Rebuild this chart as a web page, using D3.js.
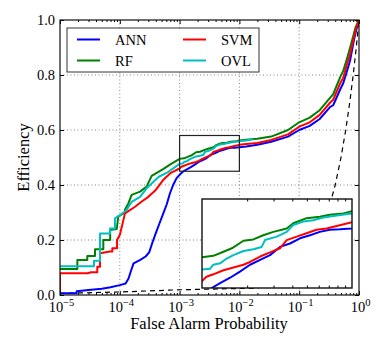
<!DOCTYPE html>
<html>
<head>
<meta charset="utf-8">
<script src="https://cdn.jsdelivr.net/npm/d3@7"></script>
<style>
  body { margin: 0; background: #fff; }
  svg { display: block; }
  text { font-family: "Liberation Serif", "DejaVu Serif", serif; fill: #000; }
</style>
</head>
<body>
<svg id="chart" width="374" height="340" font-family="Liberation Serif, DejaVu Serif, serif"></svg>
<script>
// values: [false alarm probability, efficiency]
const annData = [[1e-5,0.006],[1.9e-5,0.006],[1.9e-5,0.014],[3e-5,0.018],[5e-5,0.023],[7e-5,0.028],[1e-4,0.036],
  [1.25e-4,0.042],[1.4e-4,0.06],[1.55e-4,0.09],[1.7e-4,0.115],[2.2e-4,0.128],[2.7e-4,0.14],[3.1e-4,0.155],[3.5e-4,0.19],
  [4e-4,0.225],[4.6e-4,0.26],[5.3e-4,0.295],[6.1e-4,0.33],[6.9e-4,0.37],[7.8e-4,0.4],[8.9e-4,0.425],[1.05e-3,0.442],
  [1.16e-3,0.45],[1.32e-3,0.457],[1.54e-3,0.465],[1.79e-3,0.474],[2.09e-3,0.484],[2.44e-3,0.491],[2.84e-3,0.498],
  [3.31e-3,0.51],[3.86e-3,0.515],[4.5e-3,0.5226],[5.25e-3,0.527],[6.1e-3,0.532],[7.1e-3,0.535],[8.3e-3,0.5357],
  [1e-2,0.537],[1.3e-2,0.54],[2e-2,0.546],[3.4e-2,0.557],[6.5e-2,0.576],[0.1,0.6],[0.15,0.615],[0.22,0.64],
  [0.33,0.684],[0.37,0.69],[0.49,0.75],[0.545,0.77],[0.63,0.815],[0.705,0.85],[0.82,0.925],[0.88,0.955],[1,1]];

const rfData = [[1e-5,0.095],[1.95e-5,0.095],[1.95e-5,0.127],[2.86e-5,0.127],[2.86e-5,0.142],[3.85e-5,0.142],
  [3.85e-5,0.166],[5.3e-5,0.166],[5.3e-5,0.2],[6.9e-5,0.2],[6.9e-5,0.236],[8.9e-5,0.24],[9.4e-5,0.285],[1.22e-4,0.3],
  [1.22e-4,0.31],[1.39e-4,0.333],[1.58e-4,0.364],[2.18e-4,0.376],[2.81e-4,0.394],[3.41e-4,0.433],[5.3e-4,0.458],
  [7e-4,0.475],[1e-3,0.495],[1.19e-3,0.497],[1.39e-3,0.503],[1.58e-3,0.508],[1.89e-3,0.519],[2.2e-3,0.521],
  [2.56e-3,0.527],[2.99e-3,0.532],[3.67e-3,0.537],[4.06e-3,0.5445],[4.98e-3,0.552],[6.1e-3,0.554],[7.1e-3,0.557],
  [8.76e-3,0.559],[1e-2,0.562],[1.3e-2,0.565],[2e-2,0.568],[3.4e-2,0.576],[6.5e-2,0.6],[0.1,0.628],[0.15,0.645],
  [0.22,0.672],[0.33,0.718],[0.37,0.73],[0.49,0.795],[0.545,0.815],[0.63,0.86],[0.705,0.897],[0.82,0.95],[0.88,0.975],[1,1]];

const svmData = [[1e-5,0],[1e-5,0.079],[2.9e-5,0.079],[3.3e-5,0.083],[4.2e-5,0.083],[4.2e-5,0.103],[4.67e-5,0.103],
  [4.67e-5,0.152],[6.86e-5,0.158],[7.5e-5,0.158],[7.5e-5,0.17],[9e-5,0.17],[9e-5,0.2],[1e-4,0.218],[1.1e-4,0.255],
  [1.22e-4,0.297],[1.39e-4,0.305],[1.8e-4,0.321],[2.3e-4,0.339],[3e-4,0.357],[4e-4,0.382],[5.3e-4,0.418],[7e-4,0.443],
  [1e-3,0.46],[1.07e-3,0.4665],[1.19e-3,0.47],[1.39e-3,0.476],[1.62e-3,0.48],[1.89e-3,0.484],[2.09e-3,0.488],
  [2.44e-3,0.496],[2.84e-3,0.502],[3.31e-3,0.508],[3.67e-3,0.52],[4.28e-3,0.525],[4.98e-3,0.53],[5.8e-3,0.535],
  [6.77e-3,0.537],[7.9e-3,0.5406],[1e-2,0.546],[1.3e-2,0.549],[2e-2,0.553],[3.4e-2,0.564],[6.5e-2,0.584],[0.1,0.612],
  [0.15,0.628],[0.22,0.655],[0.33,0.7],[0.37,0.71],[0.49,0.772],[0.545,0.79],[0.63,0.84],[0.705,0.873],[0.82,0.935],
  [0.88,0.965],[1,1]];

const ovlData = [[1e-5,0.105],[3.7e-5,0.105],[3.7e-5,0.125],[4.67e-5,0.125],[4.67e-5,0.224],[6.86e-5,0.224],
  [6.86e-5,0.242],[8.3e-5,0.242],[8.3e-5,0.279],[1e-4,0.29],[1.3e-4,0.309],[1.58e-4,0.339],[2.18e-4,0.357],
  [2.81e-4,0.388],[4.5e-4,0.43],[6.5e-4,0.448],[1e-3,0.477],[1.13e-3,0.478],[1.19e-3,0.484],[1.32e-3,0.486],
  [1.46e-3,0.493],[1.62e-3,0.498],[1.89e-3,0.504],[2.2e-3,0.5065],[2.5e-3,0.51],[2.63e-3,0.52],[3.15e-3,0.525],
  [3.67e-3,0.532],[4.06e-3,0.542],[4.73e-3,0.547],[5.5e-3,0.549],[6.43e-3,0.553],[7.9e-3,0.556],[1e-2,0.559],
  [1.3e-2,0.562],[1.7e-2,0.566]];

const chanceData = [[1e-5,0.006],[1e-4,0.011],[1e-3,0.019],[2e-2,0.025],[0.05,0.05],[0.1,0.1],[0.2,0.2],[0.3,0.3],
  [0.4,0.4],[0.5,0.5],[0.6,0.6],[0.7,0.7],[0.8,0.8],[0.9,0.9],[1,1]];

const seriesNames = ["ANN", "RF", "SVM", "OVL"];
const seriesColors = ["#0000ff", "#008000", "#ff0000", "#00bfbf"];
const seriesData = [annData, rfData, svmData, ovlData];

const xMajor = [1e-5, 1e-4, 1e-3, 1e-2, 1e-1, 1];
const xExponents = ["\u22125", "\u22124", "\u22123", "\u22122", "\u22121", "0"];
const yMajor = [0, 0.2, 0.4, 0.6, 0.8, 1.0];
const yLabels = ["0.0", "0.2", "0.4", "0.6", "0.8", "1.0"];
const zoomBox = { x0: 1e-3, x1: 1e-2, y0: 0.45, y1: 0.58 };

const svg = d3.select('#chart');
const L = 60, R = 359, T = 20, B = 295;

const x = d3.scaleLog().domain([1e-5, 1]).range([L, R]);
const y = d3.scaleLinear().domain([0, 1]).range([B, T]);
const xMinor = x.ticks().filter(v => !xMajor.some(m => Math.abs(m - v) / m < 1e-6));

svg.append('rect').attr('width', 374).attr('height', 340).attr('fill', '#fff');

// grid
const grid = svg.append('g').attr('stroke', '#666').attr('stroke-width', 0.8).attr('stroke-dasharray', '1,2.5');
grid.selectAll('.gx').data(xMajor.slice(1, -1)).join('line')
  .attr('x1', d => x(d)).attr('x2', d => x(d)).attr('y1', T).attr('y2', B);
grid.selectAll('.gy').data(yMajor.slice(1, -1)).join('line')
  .attr('x1', L).attr('x2', R).attr('y1', d => y(d)).attr('y2', d => y(d));

svg.append('defs').append('clipPath').attr('id', 'plotClip')
  .append('rect').attr('x', L).attr('y', T).attr('width', R - L).attr('height', B - T);

const plot = svg.append('g').attr('clip-path', 'url(#plotClip)');
const line = d3.line().x(d => x(d[0])).y(d => y(d[1]));

plot.append('path').datum(chanceData).attr('d', line)
  .attr('fill', 'none').attr('stroke', '#000').attr('stroke-width', 1.2).attr('stroke-dasharray', '5,4');

seriesData.forEach((s, i) => {
  plot.append('path').datum(s).attr('d', line)
    .attr('fill', 'none').attr('stroke', seriesColors[i]).attr('stroke-width', 2)
    .attr('stroke-linejoin', 'round');
});

// zoomed region marker
svg.append('rect')
  .attr('x', x(zoomBox.x0)).attr('y', y(zoomBox.y1))
  .attr('width', x(zoomBox.x1) - x(zoomBox.x0)).attr('height', y(zoomBox.y0) - y(zoomBox.y1))
  .attr('fill', 'none').attr('stroke', '#222').attr('stroke-width', 1.2);

// axes ticks (inward, all four sides)
function clean(g) { g.select('.domain').remove(); g.selectAll('line').attr('stroke', '#000'); }
svg.append('g').attr('transform', `translate(0,${B})`).call(d3.axisBottom(x).tickValues(xMajor).tickSize(-4).tickFormat('')).call(clean);
svg.append('g').attr('transform', `translate(0,${B})`).call(d3.axisBottom(x).tickValues(xMinor).tickSize(-2).tickFormat('')).call(clean);
svg.append('g').attr('transform', `translate(0,${T})`).call(d3.axisTop(x).tickValues(xMajor).tickSize(-4).tickFormat('')).call(clean);
svg.append('g').attr('transform', `translate(0,${T})`).call(d3.axisTop(x).tickValues(xMinor).tickSize(-2).tickFormat('')).call(clean);
svg.append('g').attr('transform', `translate(${L},0)`).call(d3.axisLeft(y).tickValues(yMajor).tickSize(-4).tickFormat('')).call(clean);
svg.append('g').attr('transform', `translate(${R},0)`).call(d3.axisRight(y).tickValues(yMajor).tickSize(-4).tickFormat('')).call(clean);

// tick labels
const xl = svg.append('g').selectAll('text').data(xMajor).join('text')
  .attr('x', d => x(d) + 1.5).attr('y', 312).attr('text-anchor', 'middle').attr('font-size', 14.5);
xl.append('tspan').text('10');
xl.append('tspan').attr('dy', -6).attr('font-size', 10.5).text((d, i) => xExponents[i]);

svg.append('g').selectAll('text').data(yMajor).join('text')
  .attr('x', 55).attr('y', d => y(d)).attr('dy', '0.33em').attr('text-anchor', 'end')
  .attr('font-size', 14.5).text((d, i) => yLabels[i]);

svg.append('text').attr('x', 209).attr('y', 329).attr('text-anchor', 'middle').attr('font-size', 16.5)
  .text('False Alarm Probability');
svg.append('text').attr('transform', 'translate(28.5,157.5) rotate(-90)').attr('text-anchor', 'middle')
  .attr('font-size', 16.5).text('Efficiency');

// legend
const leg = svg.append('g');
leg.append('rect').attr('x', 67).attr('y', 28).attr('width', 192).attr('height', 44)
  .attr('fill', '#fff').attr('stroke', '#333').attr('stroke-width', 1);
const legPos = [[77, 39.5], [77, 60.5], [183, 39.5], [183, 60.5]];
const legOrder = [0, 1, 2, 3];
legOrder.forEach((k, i) => {
  const [lx, ly] = legPos[i];
  leg.append('line').attr('x1', lx).attr('x2', lx + 23).attr('y1', ly).attr('y2', ly)
    .attr('stroke', seriesColors[k]).attr('stroke-width', 2);
  leg.append('text').attr('x', lx + 38).attr('y', ly + 5.3).attr('font-size', 14.5).text(seriesNames[k]);
});

// inset
const IL = 202, IR = 352, IT = 199, IB = 288;
const xi = d3.scaleLog().domain([zoomBox.x0, zoomBox.x1]).range([IL, IR]);
const yi = d3.scaleLinear().domain([zoomBox.y0, zoomBox.y1]).range([IB, IT]);
const inset = svg.append('g');
inset.append('rect').attr('x', IL).attr('y', IT).attr('width', IR - IL).attr('height', IB - IT).attr('fill', '#fff');
svg.select('defs').append('clipPath').attr('id', 'insetClip')
  .append('rect').attr('x', IL).attr('y', IT).attr('width', IR - IL).attr('height', IB - IT);
const insetPlot = inset.append('g').attr('clip-path', 'url(#insetClip)');
const lineI = d3.line().x(d => xi(d[0])).y(d => yi(d[1]));
seriesData.forEach((s, i) => {
  insetPlot.append('path').datum(s).attr('d', lineI)
    .attr('fill', 'none').attr('stroke', seriesColors[i]).attr('stroke-width', 2)
    .attr('stroke-linejoin', 'round');
});
const xiMinor = xi.ticks().filter(v => v > zoomBox.x0 * 1.001 && v < zoomBox.x1 * 0.999);
inset.append('g').attr('transform', `translate(0,${IB})`).call(d3.axisBottom(xi).tickValues(xiMinor).tickSize(-2.5).tickFormat('')).call(clean);
inset.append('g').attr('transform', `translate(0,${IT})`).call(d3.axisTop(xi).tickValues(xiMinor).tickSize(-2.5).tickFormat('')).call(clean);
inset.append('rect').attr('x', IL).attr('y', IT).attr('width', IR - IL).attr('height', IB - IT)
  .attr('fill', 'none').attr('stroke', '#111').attr('stroke-width', 1.4);

// main frame
svg.append('rect').attr('x', L).attr('y', T).attr('width', R - L).attr('height', B - T)
  .attr('fill', 'none').attr('stroke', '#111').attr('stroke-width', 1.2);
</script>
</body>
</html>
